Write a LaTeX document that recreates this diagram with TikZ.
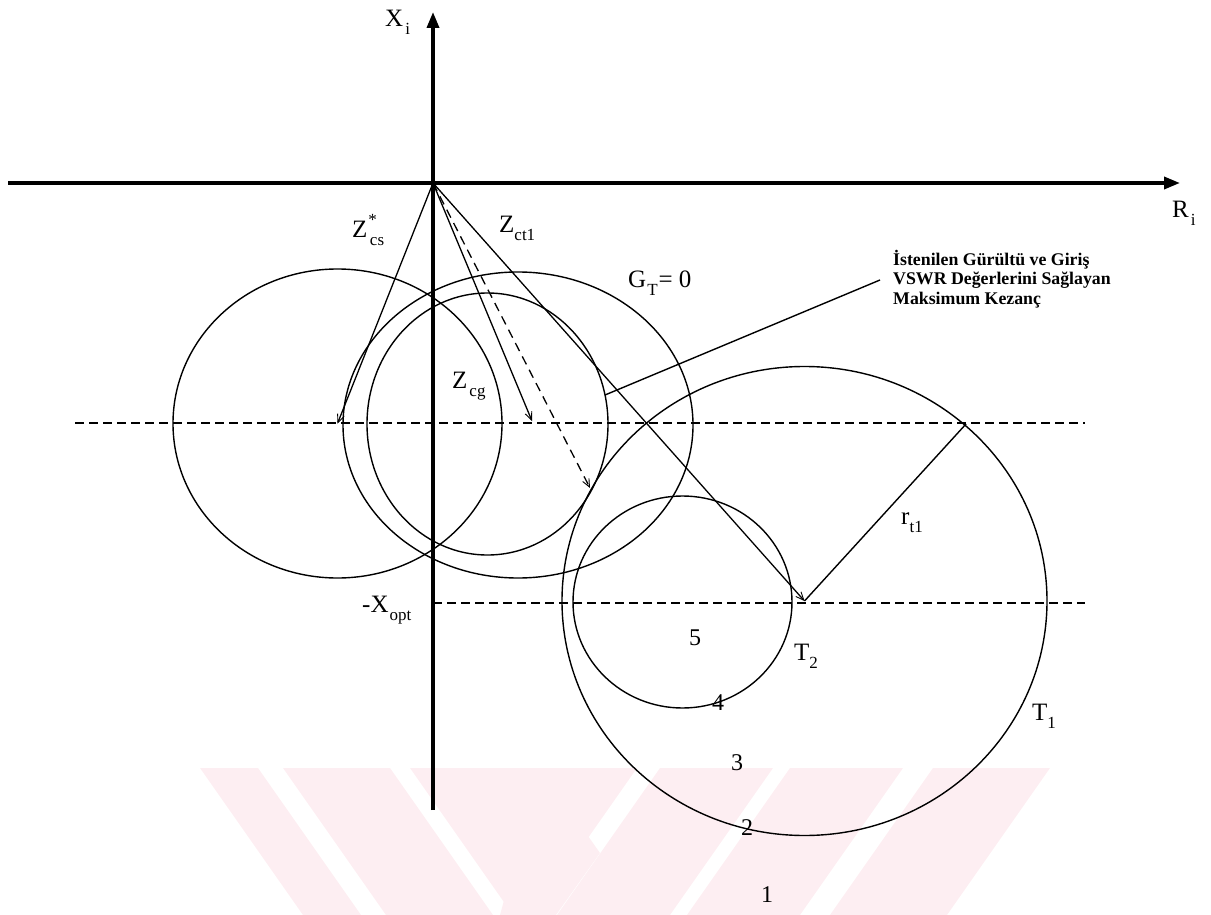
\documentclass[tikz,border=0pt]{standalone}
\usepackage{fontspec}
\setmainfont{Liberation Serif}
\usetikzlibrary{arrows.meta}
\definecolor{wmark}{RGB}{253,238,242}
\newcommand\lsub[1]{\raisebox{-0.32em}{\fontsize{17}{17}\selectfont #1}}
\newcommand\lsup[1]{\raisebox{0.45em}{\fontsize{17}{17}\selectfont #1}}
\tikzset{
  axis/.style={line width=3.5pt,-{Triangle[length=16pt,width=12pt]}},
  circ/.style={line width=1.4pt},
  vec/.style={line width=1.3pt,-{Straight Barb[length=8pt,width=7pt,line width=0.9pt]}},
  dvec/.style={line width=1.3pt,dash pattern=on 9pt off 6pt,-{Straight Barb[length=8pt,width=7pt,line width=0.9pt]}},
  guide/.style={line width=1.8pt,dash pattern=on 9pt off 5pt},
  plain/.style={line width=1.4pt},
  lab/.style={font=\fontsize{25}{28}\selectfont,inner sep=0pt},
  num/.style={font=\fontsize{24}{28}\selectfont,inner sep=0pt},
  ann/.style={font=\bfseries\fontsize{17.8}{19.5}\selectfont,align=left,inner sep=0pt},
  wm/.style={fill=wmark,draw=none}
}
\begin{document}
\begin{tikzpicture}[x=1pt,y=-1pt]
\useasboundingbox (0,0) rectangle (1211,915);
% watermark (light pink stripes)
\begin{scope}
\clip (0,768) rectangle (1211,915);
\fill[wm] (200,768) -- (258,768) -- (361,915) -- (303,915) -- cycle;
\fill[wm] (283,768) -- (390,768) -- (493,915) -- (386,915) -- cycle;
\fill[wm] (410,768) -- (540,768) -- (600,853) -- (556,915) -- (513,915) -- cycle;
\fill[wm] (540,768) -- (637,768) -- (534,915) -- (500,915) -- cycle;
\fill[wm] (660,768) -- (773,768) -- (670,915) -- (557,915) -- cycle;
\fill[wm] (790,768) -- (903,768) -- (800,915) -- (687,915) -- cycle;
\fill[wm] (933,768) -- (1050,768) -- (947,915) -- (830,915) -- cycle;
\end{scope}
% key points
\coordinate (O) at (433,183);
\coordinate (xl) at (8,183);
\coordinate (xr) at (1180,183);
\coordinate (yb) at (433,810);
\coordinate (yt) at (433,12);
\coordinate (cL) at (337.5,423.5);
\coordinate (cA) at (518,425);
\coordinate (cB) at (487.5,424);
\coordinate (cT1) at (804.5,601);
\coordinate (cT2) at (682.5,602);
\coordinate (pG) at (532,421);
\coordinate (pD) at (590,488);
\coordinate (pR) at (966,424);
\coordinate (d1a) at (75,423);
\coordinate (d1b) at (1085,423);
\coordinate (d2a) at (433,603);
\coordinate (d2b) at (1085,603);
\coordinate (la) at (605,395);
\coordinate (lb) at (880,280);
% dashed guide lines
\draw[guide] (d1a) -- (d1b);
\draw[guide] (d2a) -- (d2b);
% circles
\draw[circ] (cL) ellipse [x radius=164.5, y radius=154.5];
\draw[circ] (cA) ellipse [x radius=175, y radius=153];
\draw[circ] (cB) ellipse [x radius=120.5, y radius=131];
\draw[circ] (cT1) ellipse [x radius=242.5, y radius=234.5];
\draw[circ] (cT2) ellipse [x radius=109.5, y radius=106];
% axes
\draw[axis] (xl) -- (xr);
\draw[axis] (yb) -- (yt);
% vectors
\draw[vec] (O) -- (cL);
\draw[vec] (O) -- (pG);
\draw[dvec] (O) -- (pD);
\draw[vec] (O) -- (cT1);
\draw[plain] (cT1) -- (pR);
\draw[plain] (la) -- (lb);
% labels
\node[lab,anchor=base west] (lXi) at (385,27) {X\kern2pt\lsub{i}};
\node[lab,anchor=base west] (lRi) at (1172,218) {R\kern2pt\lsub{i}};
\node[lab,anchor=base west] (lZcs) at (352,237) {Z\kern1pt\lsup{*}\kern-7pt\lsub{cs}};
\node[lab,anchor=base west] (lZct) at (499,233) {Z\lsub{ct1}};
\node[lab,anchor=base west] (lGT) at (628,287) {G\kern1pt\lsub{T}\kern1pt= 0};
\node[lab,anchor=base west] (lZcg) at (452,388) {Z\kern2pt\lsub{cg}};
\node[lab,anchor=base west] (lXopt) at (362,612) {-X\kern1pt\lsub{opt}};
\node[lab,anchor=base west] (lrt) at (901,524) {r\lsub{t1}};
\node[lab,anchor=base west] (lT2) at (794,660) {T\lsub{2}};
\node[lab,anchor=base west] (lT1) at (1032,720) {T\lsub{1}};
\node[num] (n5) at (695,638) {5};
\node[num] (n4) at (718,703) {4};
\node[num] (n3) at (737,763) {3};
\node[num] (n2) at (747,828) {2};
\node[num] (n1) at (767,895) {1};
\node[ann,anchor=north west] (ann) at (893,250) {İstenilen Gürültü ve Giriş\\VSWR Değerlerini Sağlayan\\Maksimum Kezanç};
\end{tikzpicture}
\end{document}
